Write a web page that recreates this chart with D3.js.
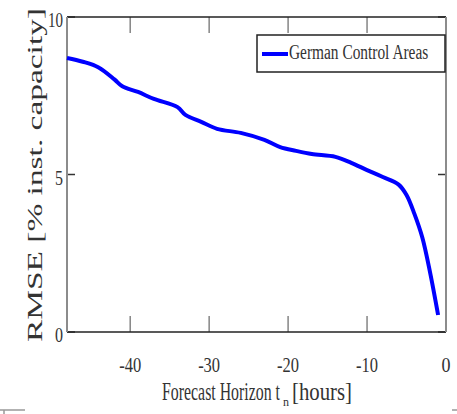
<!doctype html>
<html lang="en">
<head>
<meta charset="utf-8">
<title>RMSE vs forecast horizon</title>
<script src="https://cdn.jsdelivr.net/npm/d3@7"></script>
<style>
  body { margin: 0; background: #fff; }
  text { font-family: "Liberation Serif", "DejaVu Serif", serif; fill: #333; }
</style>
</head>
<body>
<svg id="chart" width="457" height="414"></svg>
<script>
// forecast horizon (hours) and RMSE (% inst. capacity)
var hours = [-48, -46, -44, -42, -41, -39, -37, -34, -33, -31, -29, -26, -23,
             -21, -19, -17, -14, -12, -10, -8, -6, -5, -4, -3, -2, -1];
var rmse  = [8.70, 8.58, 8.40, 8.02, 7.80, 7.62, 7.40, 7.14, 6.89, 6.67, 6.45, 6.32, 6.10,
             5.87, 5.75, 5.65, 5.56, 5.37, 5.14, 4.92, 4.68, 4.35, 3.75, 3.00, 1.87, 0.54];
var xTicks = [-40, -30, -20, -10, 0];
var yTicks = [0, 5, 10];
var seriesName = "German Control Areas";

var svg = d3.select("#chart");
var pLeft = 67, pRight = 446, pTop = 17, pBottom = 332;

var x = d3.scaleLinear().domain([-48, 0]).range([pLeft, pRight]);
var y = d3.scaleLinear().domain([0, 10]).range([pBottom, pTop]);

// ticks pointing inward, on all four sides
var g = svg.append("g");
xTicks.forEach(function(t) {
  g.append("line").attr("x1", x(t)).attr("x2", x(t)).attr("y1", pBottom).attr("y2", pBottom - 16)
    .attr("stroke", "#666").attr("stroke-width", 1.2);
  g.append("line").attr("x1", x(t)).attr("x2", x(t)).attr("y1", pTop).attr("y2", pTop + 16)
    .attr("stroke", "#666").attr("stroke-width", 1.2);
});
yTicks.forEach(function(t) {
  g.append("line").attr("x1", pLeft).attr("x2", pLeft + 8).attr("y1", y(t)).attr("y2", y(t))
    .attr("stroke", "#333").attr("stroke-width", 1.5);
  g.append("line").attr("x1", pRight).attr("x2", pRight - 8).attr("y1", y(t)).attr("y2", y(t))
    .attr("stroke", "#333").attr("stroke-width", 1.5);
});

// frame
svg.append("line").attr("x1", pLeft).attr("x2", pRight).attr("y1", pTop).attr("y2", pTop)
  .attr("stroke", "#222").attr("stroke-width", 1.6);
svg.append("line").attr("x1", pLeft).attr("x2", pRight).attr("y1", pBottom).attr("y2", pBottom)
  .attr("stroke", "#222").attr("stroke-width", 1.6);
svg.append("line").attr("x1", pLeft).attr("x2", pLeft).attr("y1", pTop).attr("y2", pBottom)
  .attr("stroke", "#8c8c8c").attr("stroke-width", 2);
svg.append("line").attr("x1", pRight).attr("x2", pRight).attr("y1", pTop).attr("y2", pBottom)
  .attr("stroke", "#8c8c8c").attr("stroke-width", 2);

// tick labels
svg.selectAll(".xl").data(xTicks).enter().append("text")
  .attr("x", function(d) { return x(d); }).attr("y", 372)
  .attr("text-anchor", "middle").attr("font-size", 21)
  .attr("textLength", function(d) { return d === 0 ? 9 : 22; })
  .attr("lengthAdjust", "spacingAndGlyphs")
  .text(function(d) { return d; });

svg.selectAll(".yl").data(yTicks).enter().append("text")
  .attr("x", 63).attr("y", function(d) { return y(d) + 10; })
  .attr("text-anchor", "end").attr("font-size", 21)
  .attr("textLength", function(d) { return d === 10 ? 15 : 8; })
  .attr("lengthAdjust", "spacingAndGlyphs")
  .text(function(d) { return d; });

// the curve
var line = d3.line()
  .x(function(d, i) { return x(hours[i]); })
  .y(function(d) { return y(d); })
  .curve(d3.curveCatmullRom.alpha(0.5));

svg.append("path").datum(rmse)
  .attr("d", line).attr("fill", "none")
  .attr("stroke", "#0000ff").attr("stroke-width", 4)
  .attr("stroke-linejoin", "round");

// x label, pieced together so the subscript sits right
svg.append("text").attr("x", 162).attr("y", 400).attr("font-size", 26)
  .attr("textLength", 118).attr("lengthAdjust", "spacingAndGlyphs")
  .text("Forecast Horizon t");
svg.append("text").attr("x", 283).attr("y", 406).attr("font-size", 13)
  .attr("textLength", 6).attr("lengthAdjust", "spacingAndGlyphs")
  .text("n");
svg.append("text").attr("x", 292).attr("y", 400).attr("font-size", 26)
  .attr("textLength", 60).attr("lengthAdjust", "spacingAndGlyphs")
  .text("[hours]");

svg.append("text")
  .attr("transform", "translate(42,175) rotate(-90)")
  .attr("text-anchor", "middle").attr("font-size", 20)
  .attr("font-family", "DejaVu Serif")
  .attr("textLength", 334).attr("lengthAdjust", "spacingAndGlyphs")
  .text("RMSE [% inst. capacity]");

// legend
var lg = svg.append("g");
lg.append("rect").attr("x", 257).attr("y", 35).attr("width", 188).attr("height", 37)
  .attr("fill", "#fff").attr("stroke", "#222").attr("stroke-width", 1.5);
lg.append("line").attr("x1", 262).attr("x2", 288).attr("y1", 54).attr("y2", 54)
  .attr("stroke", "#0000ff").attr("stroke-width", 4);
lg.append("text").attr("transform", "translate(289,59) scale(0.77,1)")
  .attr("font-size", 20).text(seriesName);

// bits of the neighbouring figure cut off at the bottom edge
svg.append("path").attr("d", "M0,410H25M4,410V414M452,410H457")
  .attr("stroke", "#999").attr("stroke-width", 1.5).attr("fill", "none");
</script>
</body>
</html>
